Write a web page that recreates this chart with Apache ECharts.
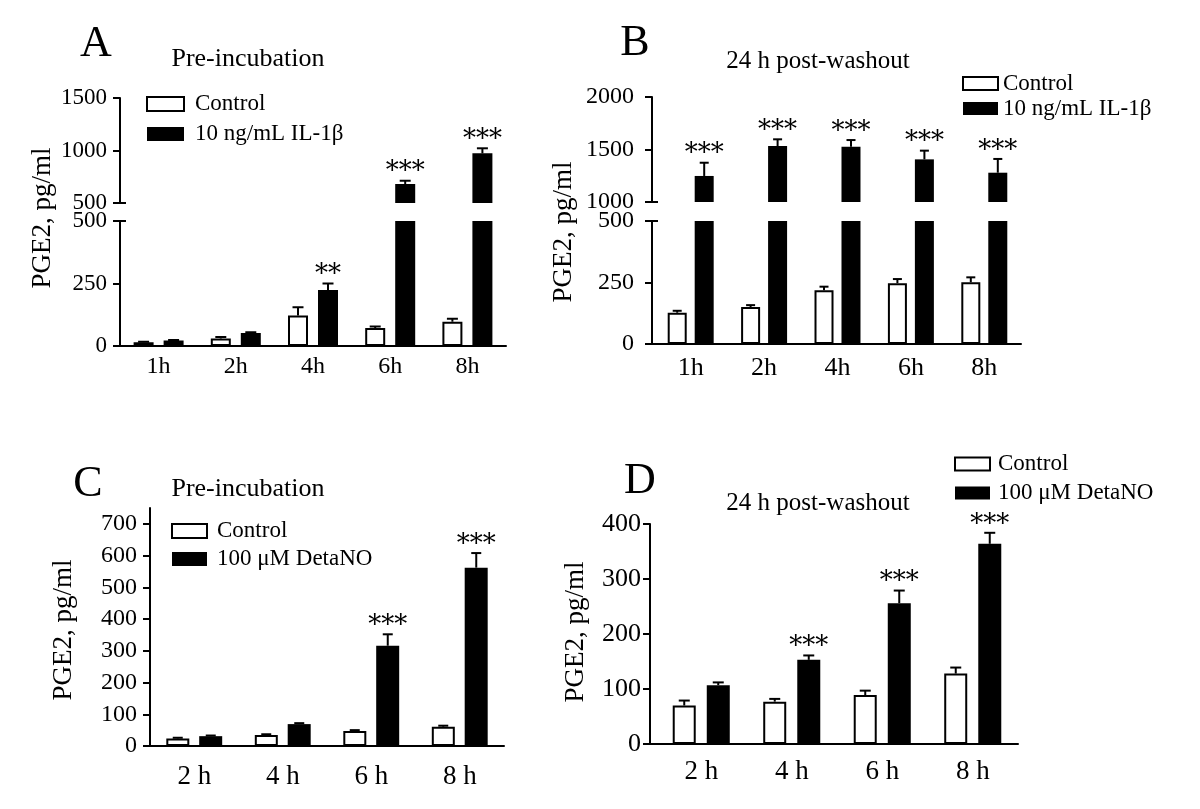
<!DOCTYPE html>
<html><head><meta charset="utf-8">
<script src="https://cdn.jsdelivr.net/npm/echarts@6/dist/echarts.min.js"></script>
<style>html,body{margin:0;padding:0;background:#fff}#c{width:1200px;height:809px}</style>
</head><body><div id="c"></div>
<script>
// ---------- data ----------
const catsAB = ['1h', '2h', '4h', '6h', '8h'];
const catsCD = ['2 h', '4 h', '6 h', '8 h'];

const aControl = [15, 30, 122, 72, 97];
const aControlErr = [2, 6, 33, 6, 12];
const aIL = [22, 52, 224, 681, 973];
const aILErr = [2, 3, 26, 31, 48];
const aStars = ['', '', '**', '***', '***'];

const bControl = [127, 150, 219, 247, 251];
const bControlErr = [8, 8, 14, 17, 20];
const bIL = [1248, 1533, 1527, 1406, 1279];
const bILErr = [126, 64, 63, 83, 131];
const bStars = ['***', '***', '***', '***', '***'];

const cControl = [24, 35, 47, 61];
const cControlErr = [2, 2, 3, 3];
const cDeta = [31, 69, 316, 562];
const cDetaErr = [2, 3, 36, 46];
const cStars = ['', '', '***', '***'];

const dControl = [70, 77, 89, 128];
const dControlErr = [9, 5, 8, 11];
const dDeta = [107, 153, 256, 364];
const dDetaErr = [5, 8, 23, 20];
const dStars = ['', '***', '***', '***'];

const yTicksC = [0, 100, 200, 300, 400, 500, 600, 700];

const nameCtrl = 'Control';
const nameIL = '10 ng/mL IL-1\u03b2';
const nameDeta = '100 \u03bcM DetaNO';

// ---------- helpers ----------
const FONT = 'Liberation Serif';
const STAR_FONT = 'DejaVu Serif';
const STAR_GAP = 14;

function barSeries(name, data, gi, bw, gap, white) {
  return {
    type: 'bar', name: name, data: data, xAxisIndex: gi, yAxisIndex: gi,
    barWidth: bw, barGap: gap, clip: true, silent: true, animation: false,
    itemStyle: white ? { color: '#fff', borderColor: '#000', borderWidth: 2 }
                     : { color: '#000', borderColor: '#000', borderWidth: 0 }
  };
}
function above(arr, m) { return arr.map(v => (v > m ? v : '-')); }

function errSeries(vals, errs, stars, gi, offset, capW, lo, hi, starSize) {
  return {
    type: 'custom', xAxisIndex: gi, yAxisIndex: gi, silent: true, animation: false, z: 5,
    data: vals.map((v, i) => [i, v, errs[i]]),
    renderItem: function (params, api) {
      const i = api.value(0), v = api.value(1), e = api.value(2);
      const top = v + e;
      if (!(top > lo && top <= hi)) return null;
      const p0 = api.coord([i, v]);
      const p1 = api.coord([i, top]);
      const x = p0[0] + offset;
      const ch = [
        { type: 'line', shape: { x1: x, y1: p0[1], x2: x, y2: p1[1] }, style: { stroke: '#000', lineWidth: 2 } },
        { type: 'line', shape: { x1: x - capW / 2, y1: p1[1], x2: x + capW / 2, y2: p1[1] }, style: { stroke: '#000', lineWidth: 2 } }
      ];
      const s = stars[params.dataIndex];
      if (s) {
        ch.push({ type: 'text', style: { text: s, x: x, y: p1[1] - STAR_GAP + 6, align: 'center', verticalAlign: 'middle',
          fontFamily: STAR_FONT, fontSize: starSize, fill: '#000' } });
      }
      return { type: 'group', children: ch };
    }
  };
}

// decorations: x-axis stub left of y axis, and break marks
function decor(gi, axisOffset, stubLeft, breakAt) {
  return {
    type: 'custom', xAxisIndex: gi, yAxisIndex: gi, silent: true, animation: false, clip: false, z: 6,
    data: [[0, 0]],
    renderItem: function (params) {
      const cs = params.coordSys;
      const ax = cs.x - axisOffset;
      const ch = [];
      const st = { stroke: '#000', lineWidth: 2 };
      if (stubLeft !== null) {
        const yb = cs.y + cs.height;
        ch.push({ type: 'line', shape: { x1: ax - stubLeft, y1: yb, x2: cs.x + 1, y2: yb }, style: st });
      }
      if (breakAt === 'bottom') {
        const yb = cs.y + cs.height;
        ch.push({ type: 'line', shape: { x1: ax - 7, y1: yb, x2: ax + 6, y2: yb }, style: st });
      } else if (breakAt === 'top') {
        ch.push({ type: 'line', shape: { x1: ax - 7, y1: cs.y, x2: ax + 6, y2: cs.y }, style: st });
      }
      return { type: 'group', children: ch };
    }
  };
}

function xAx(gi, cats, show, fs, margin) {
  return {
    type: 'category', gridIndex: gi, data: cats,
    axisLine: { show: show, onZero: false, lineStyle: { color: '#000', width: 2 } },
    axisTick: { show: false },
    axisLabel: { show: show, color: '#000', fontFamily: FONT, fontSize: fs, margin: margin },
    splitLine: { show: false }
  };
}
function yAx(gi, min, max, interval, fs, margin, offset, custom) {
  const o = {
    type: 'value', gridIndex: gi, min: min, max: max, interval: interval, offset: offset,
    axisLine: { show: true, onZero: false, lineStyle: { color: '#000', width: 2 } },
    axisTick: { show: true, length: 7, lineStyle: { color: '#000', width: 2 } },
    axisLabel: { color: '#000', fontFamily: FONT, fontSize: fs, margin: margin, showMinLabel: true, showMaxLabel: true,
      formatter: function (v) { return String(v); } },
    splitLine: { show: false }
  };
  if (custom) {
    o.axisTick.customValues = custom;
    o.axisLabel.customValues = custom;
  }
  return o;
}
function legendCfg(left, top, names, iw, ih, lh, gap, pad, fs) {
  return {
    left: left, top: top, orient: 'vertical', padding: 0, itemWidth: iw, itemHeight: ih, itemGap: gap,
    icon: 'rect', data: names, selectedMode: false,
    textStyle: { fontFamily: FONT, fontSize: fs, color: '#000', lineHeight: lh, padding: [0, 0, 0, pad] }
  };
}
function txt(x, y, text, fs, rot) {
  return {
    type: 'text', x: x, y: y, rotation: rot || 0, silent: true,
    style: { text: text, fontFamily: FONT, fontSize: fs, fill: '#000', align: 'center', verticalAlign: 'middle' }
  };
}

// ---------- option ----------
const option = {
  backgroundColor: '#fff',
  animation: false,
  grid: [
    { left: 120, top: 98, width: 386, height: 105 },   // A upper
    { left: 120, top: 221, width: 386, height: 125 },  // A lower
    { left: 654, top: 97, width: 367, height: 105 },   // B upper
    { left: 654, top: 221, width: 367, height: 123 },  // B lower
    { left: 150, top: 508, width: 354, height: 238 },  // C
    { left: 656, top: 524, width: 362, height: 220 }   // D
  ],
  xAxis: [
    xAx(0, catsAB, false, 24, 9),
    xAx(1, catsAB, true, 24, 9),
    xAx(2, catsAB, false, 26, 11),
    xAx(3, catsAB, true, 26, 11),
    xAx(4, catsCD, true, 27, 17),
    xAx(5, catsCD, true, 27, 14)
  ],
  yAxis: [
    yAx(0, 500, 1500, 500, 23, 13, 0),
    yAx(1, 0, 500, 250, 23, 13, 0),
    yAx(2, 1000, 2000, 500, 24, 18, 2),
    yAx(3, 0, 500, 250, 24, 18, 2),
    yAx(4, 0, 750, 100, 24, 13, 0, yTicksC),
    yAx(5, 0, 400, 100, 26, 9, 6)
  ],
  legend: [
    legendCfg(146, 92, [nameCtrl, nameIL], 37, 14, 24, 6, 6, 23),
    legendCfg(962, 72, [nameCtrl, nameIL], 35, 13, 21, 2, 0, 23),
    legendCfg(171, 519, [nameCtrl, nameDeta], 35, 14, 24, 4, 5, 23),
    legendCfg(954, 452, [nameCtrl, nameDeta], 35, 13, 24, 5, 3, 23)
  ],
  graphic: [
    txt(96, 44, 'A', 44), txt(248, 59, 'Pre-incubation', 26),
    txt(635, 43, 'B', 44), txt(818, 61, '24 h post-washout', 25),
    txt(88, 484, 'C', 44), txt(248, 489, 'Pre-incubation', 26),
    txt(640, 481, 'D', 44), txt(818, 503, '24 h post-washout', 25),
    txt(43, 218, 'PGE2, pg/ml', 27, Math.PI / 2),
    txt(564, 232, 'PGE2, pg/ml', 27, Math.PI / 2),
    txt(64, 630, 'PGE2, pg/ml', 27, Math.PI / 2),
    txt(576, 632, 'PGE2, pg/ml', 27, Math.PI / 2)
  ],
  series: [
    // A upper
    barSeries(nameCtrl, above(aControl, 500), 0, 20, '50%', true),
    barSeries(nameIL, above(aIL, 500), 0, 20, '50%', false),
    errSeries(aIL, aILErr, aStars, 0, 15, 11, 500, Infinity, 26),
    decor(0, 0, null, 'bottom'),
    // A lower
    barSeries(nameCtrl, aControl, 1, 20, '50%', true),
    barSeries(nameIL, aIL, 1, 20, '50%', false),
    errSeries(aControl, aControlErr, [], 1, -15, 11, -Infinity, 500, 26),
    errSeries(aIL, aILErr, aStars, 1, 15, 11, -Infinity, 500, 26),
    decor(1, 0, 7, 'top'),
    // B upper
    barSeries(nameCtrl, above(bControl, 1000), 2, 19, '42%', true),
    barSeries(nameIL, above(bIL, 1000), 2, 19, '42%', false),
    errSeries(bIL, bILErr, bStars, 2, 13.5, 9, 1000, Infinity, 26),
    decor(2, 2, null, 'bottom'),
    // B lower
    barSeries(nameCtrl, bControl, 3, 19, '42%', true),
    barSeries(nameIL, bIL, 3, 19, '42%', false),
    errSeries(bControl, bControlErr, [], 3, -13.5, 9, -Infinity, 500, 26),
    errSeries(bIL, bILErr, bStars, 3, 13.5, 9, -Infinity, 500, 26),
    decor(3, 2, 0, 'top'),
    // C
    barSeries(nameCtrl, cControl, 4, 23, '43%', true),
    barSeries(nameDeta, cDeta, 4, 23, '43%', false),
    errSeries(cControl, cControlErr, [], 4, -16.5, 10, -Infinity, Infinity, 26),
    errSeries(cDeta, cDetaErr, cStars, 4, 16.5, 10, -Infinity, Infinity, 26),
    decor(4, 0, 6, null),
    // D
    barSeries(nameCtrl, dControl, 5, 23, '48%', true),
    barSeries(nameDeta, dDeta, 5, 23, '48%', false),
    errSeries(dControl, dControlErr, [], 5, -17, 11, -Infinity, Infinity, 26),
    errSeries(dDeta, dDetaErr, dStars, 5, 17, 11, -Infinity, Infinity, 26),
    decor(5, 6, 0, null)
  ]
};

const chart = echarts.init(document.getElementById('c'), null, { renderer: 'canvas' });
chart.setOption(option);
</script>
</body></html>
